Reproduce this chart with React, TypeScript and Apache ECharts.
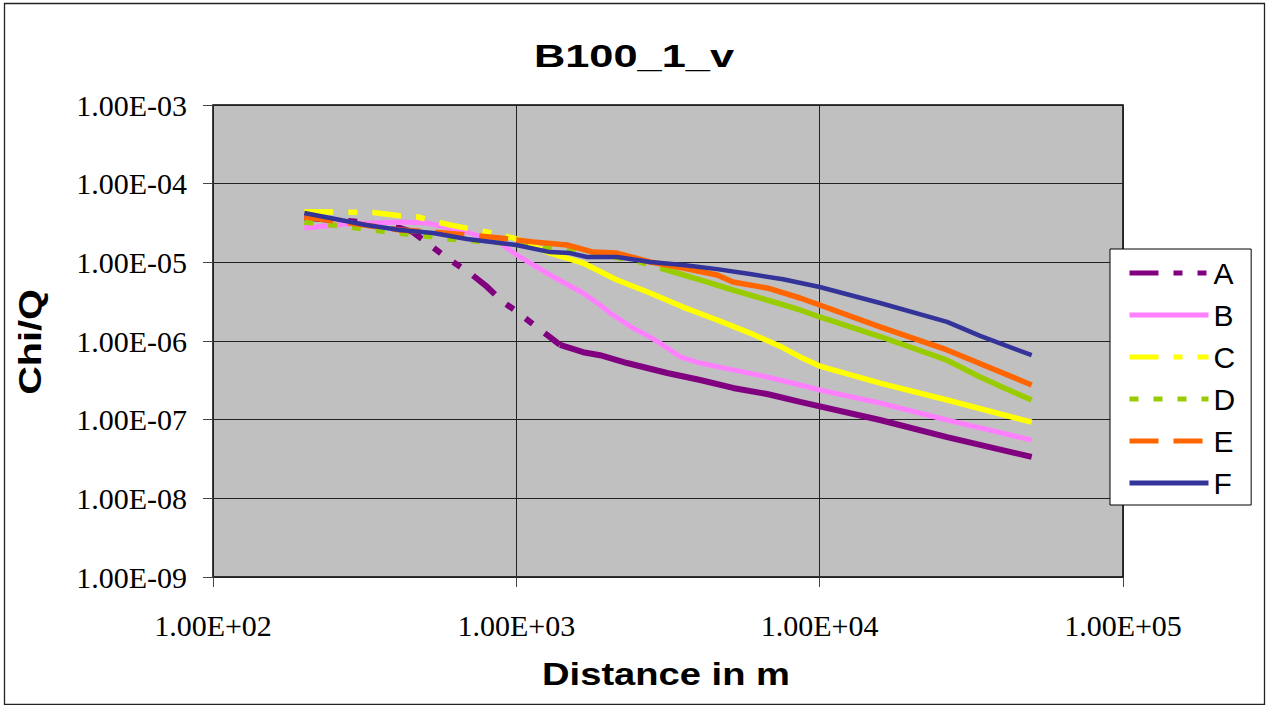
import React, { useEffect, useRef } from 'react';
import * as echarts from 'echarts';

// ---- data (distance in m, Chi/Q) ----
const seriesNames = ['A', 'B', 'C', 'D', 'E', 'F'];
const xTicks = ['1.00E+02', '1.00E+03', '1.00E+04', '1.00E+05'];
const yTicks = ['1.00E-09', '1.00E-08', '1.00E-07', '1.00E-06', '1.00E-05', '1.00E-04', '1.00E-03'];

const aDist = [200, 305, 414, 456, 519, 590, 703, 800, 904, 1000, 1109, 1291, 1393, 1660, 1888, 2317, 3143, 4036, 5179, 6709, 8617, 15810, 26300, 50000];
const aChi = [3.7e-5, 3.26e-5, 2.73e-5, 2.43e-5, 1.66e-5, 1.14e-5, 7.3e-6, 4.9e-6, 3.13e-6, 2.4e-6, 1.75e-6, 1.12e-6, 8.9e-7, 7.2e-7, 6.6e-7, 5.25e-7, 3.92e-7, 3.19e-7, 2.53e-7, 2.12e-7, 1.68e-7, 9.9e-8, 6.0e-8, 3.36e-8];

const bDist = [200, 283, 414, 508, 687, 883, 1000, 1291, 1660, 1888, 2036, 2426, 2761, 2979, 3467, 4036, 5179, 6709, 8617, 10000, 15810, 26300, 50000];
const bChi = [2.73e-5, 3.1e-5, 3.26e-5, 3.16e-5, 2.43e-5, 1.76e-5, 1.25e-5, 6.9e-6, 4.07e-6, 2.87e-6, 2.27e-6, 1.46e-6, 1.12e-6, 9.4e-7, 6.3e-7, 5.25e-7, 4.3e-7, 3.49e-7, 2.76e-7, 2.38e-7, 1.63e-7, 9.9e-8, 5.5e-8];

const cDist = [200, 337, 414, 470, 604, 800, 1000, 1291, 1660, 2148, 2761, 3545, 4593, 5894, 7397, 8617, 10000, 15810, 26300, 50000];
const cChi = [4.4e-5, 4.3e-5, 3.9e-5, 3.8e-5, 2.98e-5, 2.43e-5, 2.0e-5, 1.31e-5, 9.8e-6, 5.97e-6, 4.07e-6, 2.7e-6, 1.85e-6, 1.26e-6, 8.6e-7, 6.27e-7, 4.8e-7, 2.92e-7, 1.78e-7, 9.3e-8];

const dDist = [200, 283, 337, 402, 471, 604, 800, 1135, 1469, 1888, 2426, 2979, 4036, 5179, 6709, 8617, 10000, 15810, 26300, 33800, 43450, 50000];
const dChi = [3.26e-5, 2.81e-5, 2.58e-5, 2.36e-5, 2.23e-5, 1.98e-5, 1.82e-5, 1.66e-5, 1.43e-5, 1.24e-5, 1.07e-5, 8.47e-6, 5.97e-6, 4.45e-6, 3.32e-6, 2.48e-6, 2.02e-6, 1.14e-6, 5.7e-7, 3.49e-7, 2.25e-7, 1.78e-7];

const eDist = [200, 414, 531, 687, 883, 1000, 1135, 1469, 1791, 2148, 2761, 3545, 4593, 5179, 6709, 8617, 10000, 15810, 26300, 50000];
const eChi = [3.77e-5, 2.58e-5, 2.43e-5, 2.23e-5, 2.04e-5, 1.92e-5, 1.82e-5, 1.66e-5, 1.35e-5, 1.31e-5, 1.01e-5, 8.47e-6, 6.9e-6, 5.62e-6, 4.72e-6, 3.52e-6, 2.87e-6, 1.51e-6, 7.7e-7, 2.76e-7];

const fDist = [200, 320, 414, 531, 687, 1000, 1291, 1503, 1711, 2148, 2761, 3545, 4593, 5894, 7573, 10000, 15810, 26300, 33800, 50000];
const fChi = [4.24e-5, 2.98e-5, 2.58e-5, 2.36e-5, 1.98e-5, 1.66e-5, 1.35e-5, 1.31e-5, 1.17e-5, 1.17e-5, 1.01e-5, 9.25e-6, 8.2e-6, 7.1e-6, 6.1e-6, 4.86e-6, 3.04e-6, 1.75e-6, 1.16e-6, 6.6e-7];

// distance where the dense data makes the dashed lines look solid
const dashEnds = [1393, null, 1000, 2979, 1000, null];

const colors = ['#800080', '#FF80FF', '#FFFF00', '#99CC00', '#FF6600', '#333399'];
const widths = [6, 5, 5.5, 5.5, 5.5, 4.5];
const dashes: (number[] | null)[] = [[29, 15, 9, 15, 9, 15], null, [29, 15, 9, 15], [9, 15], [29, 15], null];

const allDist = [aDist, bDist, cDist, dDist, eDist, fDist];
const allChi = [aChi, bChi, cChi, dChi, eChi, fChi];

function fmtExp(v: number) {
  const e = Math.round(Math.log10(v));
  const s = e < 0 ? '-' : '+';
  return '1.00E' + s + String(Math.abs(e)).padStart(2, '0');
}

export default function App() {
  const ref = useRef<HTMLDivElement>(null);
  useEffect(() => {
    if (!ref.current) return;
    const chart = echarts.init(ref.current, undefined, { renderer: 'svg' });
    const series: any[] = [];
    seriesNames.forEach((name, i) => {
      const pts = allDist[i].map((x, j) => [x, allChi[i][j]]);
      const base = {
        name,
        type: 'line',
        symbol: 'none',
        silent: true,
        smooth: false,
      };
      const split = dashEnds[i];
      if (split != null && dashes[i]) {
        series.push({
          ...base,
          data: pts.filter((p) => p[0] <= split),
          lineStyle: { color: colors[i], width: widths[i], type: dashes[i], cap: 'butt' },
        });
        series.push({
          ...base,
          data: pts.filter((p) => p[0] >= split),
          lineStyle: { color: colors[i], width: widths[i], type: 'solid', cap: 'butt' },
        });
      } else {
        series.push({
          ...base,
          data: pts,
          lineStyle: { color: colors[i], width: widths[i], type: dashes[i] || 'solid', cap: 'butt' },
        });
      }
    });

    const serif = '"Liberation Serif", "Times New Roman", serif';
    const sans = '"Liberation Sans", Arial, sans-serif';

    chart.setOption({
      animation: false,
      backgroundColor: '#ffffff',
      grid: {
        left: 213,
        top: 105,
        width: 910,
        height: 472,
        show: true,
        backgroundColor: '#C0C0C0',
        borderColor: '#000',
        borderWidth: 1.5,
      },
      xAxis: {
        type: 'log',
        logBase: 10,
        min: 100,
        max: 100000,
        splitNumber: 3,
        axisLine: { show: false },
        axisTick: { show: true, inside: false, length: 10, lineStyle: { color: '#444', width: 1 } },
        splitLine: { show: true, lineStyle: { color: '#222', width: 1 } },
        axisLabel: {
          margin: 33,
          fontFamily: serif,
          fontSize: 30,
          color: '#000',
          formatter: (v: number) => {
            const s = fmtExp(v);
            return xTicks.includes(s) ? s : '';
          },
        },
      },
      yAxis: {
        type: 'log',
        logBase: 10,
        min: 1e-9,
        max: 1e-3,
        splitNumber: 6,
        axisLine: { show: false },
        axisTick: { show: true, inside: false, length: 10, lineStyle: { color: '#444', width: 1 } },
        splitLine: { show: true, lineStyle: { color: '#222', width: 1 } },
        axisLabel: {
          margin: 26,
          fontFamily: serif,
          fontSize: 30,
          color: '#000',
          formatter: (v: number) => {
            const s = fmtExp(v);
            return yTicks.includes(s) ? s : '';
          },
        },
      },
      legend: {
        data: seriesNames,
        orient: 'vertical',
        left: 1110,
        top: 249,
        itemWidth: 79,
        itemHeight: 30,
        itemGap: 12,
        padding: [9, 16, 7, 17],
        backgroundColor: '#ffffff',
        borderColor: '#000',
        borderWidth: 1,
        borderRadius: 0,
        selectedMode: false,
        itemStyle: { opacity: 0 },
        lineStyle: { width: 5 },
        textStyle: { fontFamily: sans, fontSize: 30, color: '#000', lineHeight: 30 },
      },
      graphic: [
        {
          type: 'rect',
          left: 2,
          top: 1,
          shape: { x: 0, y: 0, width: 1260, height: 701 },
          style: { fill: 'none', stroke: '#222', lineWidth: 1.3 },
          silent: true,
        },
        {
          type: 'text',
          x: 634,
          y: 56,
          scaleX: 1.4,
          style: {
            text: 'B100_1_v',
            fontFamily: sans,
            fontWeight: 'bold',
            fontSize: 31,
            fill: '#000',
            align: 'center',
            verticalAlign: 'middle',
          },
        },
        {
          type: 'text',
          x: 666,
          y: 674,
          scaleX: 1.25,
          style: {
            text: 'Distance in m',
            fontFamily: sans,
            fontWeight: 'bold',
            fontSize: 30.5,
            fill: '#000',
            align: 'center',
            verticalAlign: 'middle',
          },
        },
        {
          type: 'text',
          x: 30,
          y: 342,
          rotation: Math.PI / 2,
          scaleX: 1.24,
          style: {
            text: 'Chi/Q',
            fontFamily: sans,
            fontWeight: 'bold',
            fontSize: 32,
            fill: '#000',
            align: 'center',
            verticalAlign: 'middle',
          },
        },
      ],
      series,
    });
    return () => chart.dispose();
  }, []);
  return <div ref={ref} style={{ position: 'absolute', left: 0, top: 0, width: 1266, height: 705 }} />;
}
